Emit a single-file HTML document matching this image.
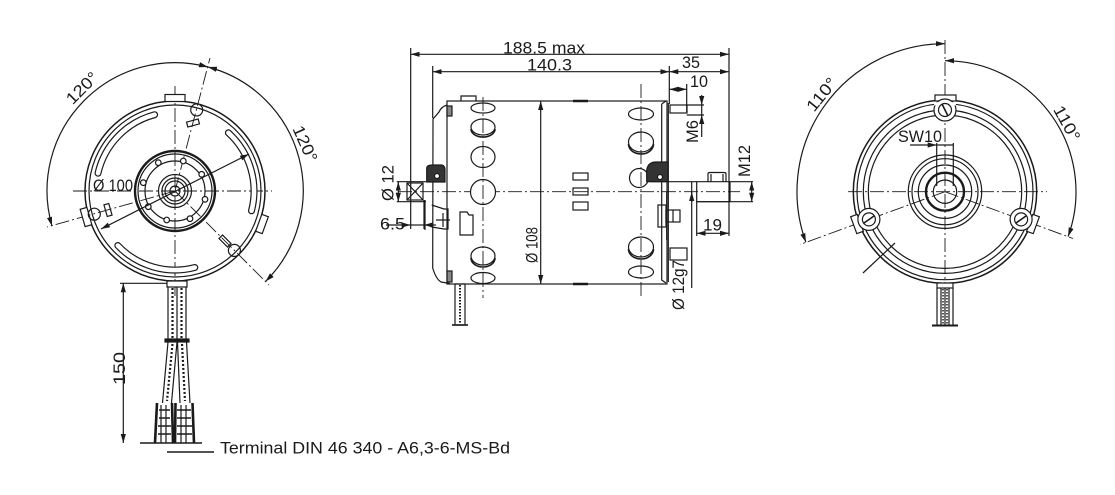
<!DOCTYPE html>
<html><head><meta charset="utf-8"><style>
html,body{margin:0;padding:0;background:#fff;}
svg{display:block;}
text{font-family:"Liberation Sans",sans-serif;fill:#1a1a1a;font-size:16.5px;}
</style></head><body>
<svg width="1115" height="495" viewBox="0 0 1115 495" xmlns="http://www.w3.org/2000/svg">
<defs>
<marker id="ar" viewBox="0 0 9 6" refX="9" refY="3" markerWidth="9" markerHeight="6" markerUnits="userSpaceOnUse" orient="auto-start-reverse"><path d="M0,0.4 L9,3 L0,5.6 z" fill="#1a1a1a"/></marker>
</defs>
<g fill="none" stroke="#1a1a1a" stroke-width="1.2">

<!-- ============ LEFT VIEW ============ -->
<g stroke-width="0.9" stroke-dasharray="14 3 2 3">
<line x1="73" y1="191" x2="272" y2="191"/>
<line x1="175" y1="86" x2="175" y2="296"/>
<line x1="175" y1="191" x2="47" y2="227"/>
<line x1="175" y1="191" x2="210" y2="58"/>
<line x1="175" y1="191" x2="269" y2="285"/>
</g>
<path d="M52,226 A128,128 0 0 1 208,67" marker-start="url(#ar)" marker-end="url(#ar)"/>
<path d="M208,67 A128,128 0 0 1 265.5,281.5" marker-start="url(#ar)" marker-end="url(#ar)"/>
<circle cx="175" cy="191" r="90" stroke-width="1.5"/>
<circle cx="175" cy="191" r="86"/>
<!-- slots -->
<g stroke-linecap="round">
<path d="M154.6,114.7 A79,79 0 0 0 98,173.2" stroke-width="7"/>
<path d="M228.4,132.8 A79,79 0 0 1 251.5,210.8" stroke-width="7"/>
<path d="M194.8,267.5 A79,79 0 0 1 117.8,245.5" stroke-width="7"/>
<path d="M154.6,114.7 A79,79 0 0 0 98,173.2" stroke-width="4.6" stroke="#fff"/>
<path d="M228.4,132.8 A79,79 0 0 1 251.5,210.8" stroke-width="4.6" stroke="#fff"/>
<path d="M194.8,267.5 A79,79 0 0 1 117.8,245.5" stroke-width="4.6" stroke="#fff"/>
</g>
<!-- tabs -->
<rect x="-10" y="-3.5" width="20" height="7" fill="#fff" transform="translate(175,98) rotate(0)"/>
<rect x="-9" y="-3.5" width="18" height="7" fill="#fff" transform="translate(86,217) rotate(-106)"/>
<rect x="-9" y="-3.5" width="18" height="7" fill="#fff" transform="translate(262,224) rotate(110)"/>
<!-- mount holes -->
<circle cx="196.7" cy="109.9" r="6"/>
<circle cx="94.3" cy="214.2" r="6"/>
<circle cx="234.4" cy="250.4" r="6"/>
<rect x="-6" y="-2.5" width="12" height="5" transform="translate(193,123) rotate(-15)"/>
<rect x="-6" y="-2.5" width="12" height="5" transform="translate(108,210) rotate(-106)"/>
<rect x="-6" y="-2.5" width="12" height="5" transform="translate(225,241) rotate(45)"/>
<!-- hub -->
<circle cx="175" cy="191" r="40" stroke-width="2.4"/>
<circle cx="175" cy="191" r="37"/>
<circle cx="175" cy="191" r="30"/>
<circle cx="175" cy="191" r="16.5"/>
<circle cx="175" cy="191" r="13"/>
<circle cx="175" cy="191" r="10"/>
<circle cx="175" cy="191" r="5"/>
<g fill="#fff">
<circle cx="183.3" cy="161" r="2.8"/><circle cx="201.7" cy="174.3" r="2.8"/>
<circle cx="205" cy="199.3" r="2.8"/><circle cx="190" cy="218.7" r="2.8"/>
<circle cx="166.7" cy="220" r="2.8"/><circle cx="148.3" cy="206.7" r="2.8"/>
<circle cx="143.3" cy="182.7" r="2.8"/><circle cx="158.3" cy="162.7" r="2.8"/>
</g>
<!-- Ø100 -->
<line x1="101" y1="229" x2="249" y2="154" marker-start="url(#ar)" marker-end="url(#ar)"/>
<!-- wires -->
<rect x="167" y="281" width="20" height="6" fill="#fff"/>
<path d="M168,287 V340 M177,287 V340 M186,287 V340"/>
<path d="M172.5,288 V339 M181.5,288 V339" stroke-dasharray="2 2" stroke-width="2.2"/>
<rect x="165" y="339" width="24" height="3" fill="#1a1a1a"/>
<path d="M168,342 L162.5,403 M177,342 L171.5,403 M177.5,342 L180,403 M186.5,342 L190,403"/>
<path d="M172.5,344 L167,401 M182,344 L185,401" stroke-dasharray="2 2" stroke-width="2.2"/>
<path d="M157,403 L155,443 M172,403 L173,443 M175.5,403 L175,443 M192.5,403 L194,443" stroke-width="2.6"/>
<path d="M159,410 H170 M159,418 H170 M158,426 H171 M158,434 H171 M177,410 H191 M177,418 H191 M177,426 H192 M177,434 H192" stroke-width="1.4"/>
<path d="M161,405 V443 M166,405 V443 M181,405 V443 M186,405 V443" stroke-width="1.2"/>
<line x1="140" y1="443" x2="202" y2="443" stroke-width="1.4"/>
<line x1="167" y1="452" x2="214" y2="452" stroke-width="1.4"/>
<!-- 150 dim -->
<line x1="120" y1="283.3" x2="167" y2="283.3"/>
<line x1="123.3" y1="283.3" x2="123.3" y2="443" marker-start="url(#ar)" marker-end="url(#ar)"/>

<!-- ============ MIDDLE VIEW ============ -->
<line x1="410.7" y1="48" x2="410.7" y2="229"/>
<line x1="729" y1="48" x2="729" y2="236"/>
<line x1="410.7" y1="54.3" x2="729" y2="54.3" marker-start="url(#ar)" marker-end="url(#ar)"/>
<line x1="432.7" y1="66" x2="432.7" y2="118"/>
<line x1="669.3" y1="66" x2="669.3" y2="104"/>
<line x1="432.7" y1="71.7" x2="669.3" y2="71.7" marker-start="url(#ar)" marker-end="url(#ar)"/>
<line x1="669.3" y1="71.7" x2="729" y2="71.7" marker-start="url(#ar)" marker-end="url(#ar)"/>
<line x1="686.7" y1="84" x2="686.7" y2="112"/>
<line x1="669.3" y1="89.3" x2="686.7" y2="89.3" marker-start="url(#ar)" marker-end="url(#ar)"/>
<line x1="686.7" y1="105" x2="704" y2="105"/>
<line x1="686.7" y1="115" x2="704" y2="115"/>
<line x1="701.7" y1="95" x2="701.7" y2="105" marker-end="url(#ar)"/>
<line x1="701.7" y1="137" x2="701.7" y2="115" marker-end="url(#ar)"/>
<line x1="701.7" y1="105" x2="701.7" y2="115"/>
<g stroke-width="0.9" stroke-dasharray="14 3 2 3">
<line x1="398" y1="191.7" x2="740" y2="191.7"/>
</g>
<!-- body -->
<rect x="447" y="101" width="220" height="183"/>
<line x1="540.7" y1="101" x2="540.7" y2="284" marker-start="url(#ar)" marker-end="url(#ar)"/>
<path d="M573,101 H588 M573,284 H588" stroke-width="2.6"/>
<rect x="573" y="173" width="15" height="7"/>
<rect x="573" y="188" width="15" height="7"/>
<rect x="573" y="202" width="15" height="8"/>
<!-- left bell -->
<path d="M447,105 Q441,107 439,112 L433,119 L432.7,268 Q436,279 441,282 L450,283.5"/>
<rect x="447" y="106" width="5" height="10" fill="#888"/>
<rect x="447" y="271" width="5" height="11" fill="#888"/>
<path d="M461,101 V96 H476 V101"/>
<path d="M426.7,182 V168 Q427,165 432,165 H442 Q445,166 445,170 V182 Z" fill="#333"/>
<circle cx="437" cy="176" r="2.5" fill="#fff"/>
<rect x="407" y="183" width="16" height="17"/>
<path d="M407,183 L423,200 M423,183 L407,200"/>
<path d="M425,200 V230 M431.7,205 L444,209 L448,209 L448,229 L444,229 L431.7,227"/>
<path d="M436,220 H450 M443,213 V227"/>
<path d="M460,212 H467 L469,215 H473 V235 H460 Z"/>
<line x1="396.7" y1="181.7" x2="426" y2="181.7"/>
<line x1="396.7" y1="201.7" x2="426" y2="201.7"/>
<line x1="398.3" y1="181.7" x2="398.3" y2="201.7" marker-start="url(#ar)" marker-end="url(#ar)"/>
<line x1="424" y1="200" x2="424" y2="229"/>
<line x1="386" y1="225" x2="410.7" y2="225" marker-end="url(#ar)"/>
<line x1="436" y1="225" x2="424" y2="225" marker-end="url(#ar)"/>
<line x1="410.7" y1="225" x2="424" y2="225"/>
<!-- holes -->
<g fill="#fff">
<ellipse cx="483" cy="108" rx="12" ry="5"/>
<ellipse cx="483" cy="127" rx="12" ry="8"/>
<ellipse cx="483" cy="157" rx="12" ry="10.5"/>
<circle cx="483" cy="192" r="12.5"/>
<ellipse cx="483" cy="256" rx="12" ry="9"/>
<ellipse cx="483" cy="278" rx="12" ry="5.5"/>
<ellipse cx="641" cy="114" rx="12.5" ry="6"/>
<ellipse cx="641" cy="142" rx="12.5" ry="10"/>
<ellipse cx="641" cy="247" rx="12.5" ry="10"/>
<ellipse cx="641" cy="272" rx="12.5" ry="6"/>
<circle cx="639" cy="178" r="9.5"/>
</g>
<path d="M471,129 A12,8 0 0 0 495,129 M471,258 A12,9 0 0 0 495,258 M628.5,144 A12.5,10 0 0 0 653.5,144 M628.5,249 A12.5,10 0 0 0 653.5,249" stroke-width="1.6"/>
<g stroke-width="0.9" stroke-dasharray="14 3 2 3">
<line x1="483" y1="97" x2="483" y2="298"/>
<line x1="641" y1="84" x2="641" y2="298"/>
</g>
<!-- right end -->
<path d="M661.7,104 L666,101 M661.7,104 V280 L666,283"/>
<line x1="668.3" y1="103" x2="668.3" y2="282"/>
<rect x="670" y="105" width="17" height="8"/>
<path d="M646.7,181.7 V170 Q648,162 656,162 H668 V181.7 Z" fill="#333"/>
<circle cx="660" cy="177" r="2.5" fill="#fff"/>
<line x1="650" y1="181.7" x2="753" y2="181.7"/>
<line x1="696.7" y1="201.7" x2="753" y2="201.7"/>
<line x1="691.7" y1="181.7" x2="691.7" y2="288"/>
<path d="M696.7,181.7 V201.7 H730 V181.7"/>
<path d="M708,181.7 V174 Q708,172.5 710,172.5 H724 Q726,172.5 726,174 V181.7 M711,174 V181.7 M723,174 V181.7"/>
<line x1="751.7" y1="181.7" x2="751.7" y2="201.7" marker-start="url(#ar)" marker-end="url(#ar)"/>
<line x1="696.7" y1="201.7" x2="696.7" y2="236"/>
<line x1="696.7" y1="233.3" x2="729" y2="233.3" marker-start="url(#ar)" marker-end="url(#ar)"/>
<line x1="666.7" y1="191.7" x2="666.7" y2="240"/>
<rect x="658" y="205" width="8" height="22"/>
<rect x="666" y="210" width="14" height="12"/>
<line x1="673" y1="210" x2="673" y2="222"/>
<rect x="670" y="248" width="17" height="12"/>
<line x1="691.7" y1="192" x2="691.7" y2="202" marker-start="url(#ar)"/>
<!-- bottom wire middle -->
<rect x="455" y="284" width="10" height="41"/>
<line x1="460" y1="285" x2="460" y2="324" stroke-dasharray="1.5 1.5" stroke-width="2"/>
<line x1="452" y1="325" x2="468" y2="325" stroke-width="1.6"/>

<!-- ============ RIGHT VIEW ============ -->
<g stroke-width="0.9" stroke-dasharray="14 3 2 3">
<line x1="848" y1="191.7" x2="1047" y2="191.7"/>
<line x1="945" y1="40" x2="945" y2="292"/>
<line x1="945" y1="191.7" x2="800" y2="244.5"/>
<line x1="945" y1="191.7" x2="1073" y2="238.5"/>
</g>
<path d="M805.9,242.3 A148,148 0 0 1 945,43.7" marker-start="url(#ar)" marker-end="url(#ar)"/>
<path d="M945,60.7 A131,131 0 0 1 1068.1,236.5" marker-start="url(#ar)" marker-end="url(#ar)"/>
<circle cx="945" cy="191.7" r="91.7" stroke-width="1.5"/>
<circle cx="945" cy="191.7" r="88"/>
<circle cx="945" cy="191.7" r="81.7"/>
<circle cx="945" cy="191.7" r="76.7"/>
<rect x="935" y="95" width="21" height="6" fill="#fff"/>
<rect x="-9" y="-3.5" width="18" height="7" fill="#fff" transform="translate(857,224) rotate(-110)"/>
<rect x="-9" y="-3.5" width="18" height="7" fill="#fff" transform="translate(1033,224) rotate(110)"/>
<g fill="#fff">
<circle cx="945" cy="110" r="11"/>
<circle cx="868.9" cy="219.4" r="11"/>
<circle cx="1021.1" cy="219.4" r="11"/>
</g>
<g stroke="#fff" stroke-width="3">
<path d="M934,104 A79,79 0 0 1 956,104"/>
</g>
<circle cx="945" cy="110" r="6.5"/>
<circle cx="868.9" cy="219.4" r="6.5"/>
<circle cx="1021.1" cy="219.4" r="6.5"/>
<path d="M942,104 L948,116 M864,223 L874,216 M1016,223 L1026,216" stroke-width="1.6"/>
<!-- hub -->
<circle cx="945" cy="191.7" r="36.7"/>
<circle cx="945" cy="191.7" r="33"/>
<circle cx="945" cy="191.7" r="26.7"/>
<circle cx="945" cy="191.7" r="19" stroke-width="2.4"/>
<circle cx="945" cy="191.7" r="11.7"/>
<!-- SW10 -->
<line x1="936.7" y1="143" x2="936.7" y2="186"/>
<line x1="953.3" y1="143" x2="953.3" y2="186"/>
<line x1="910" y1="145" x2="936.7" y2="145" marker-end="url(#ar)"/>
<line x1="936.7" y1="145" x2="953.3" y2="145"/>
<!-- leader -->
<line x1="863" y1="273" x2="895" y2="243"/>
<!-- wire -->
<rect x="937" y="283" width="16" height="5" fill="#fff"/>
<path d="M937,288 V325 M953,288 V325 M941,288 V325 M945,288 V325 M949,288 V325"/>
<line x1="943" y1="289" x2="943" y2="324" stroke-dasharray="1.5 1.5" stroke-width="1.5"/>
<line x1="947" y1="289" x2="947" y2="324" stroke-dasharray="1.5 1.5" stroke-width="1.5"/>
<line x1="932" y1="325.5" x2="958" y2="325.5" stroke-width="2"/>
</g>

<!-- ============ TEXT ============ -->
<text x="86" y="92" text-anchor="middle" textLength="38" lengthAdjust="spacingAndGlyphs" transform="rotate(-45 86 92)">120°</text>
<text x="300" y="146" text-anchor="middle" textLength="38" lengthAdjust="spacingAndGlyphs" transform="rotate(66 300 146)">120°</text>
<text x="93" y="191" textLength="40" lengthAdjust="spacingAndGlyphs">Ø 100</text>
<text transform="translate(125,368.5) rotate(-90)" text-anchor="middle" textLength="33" lengthAdjust="spacingAndGlyphs">150</text>
<text x="220" y="453.5" textLength="290" lengthAdjust="spacingAndGlyphs">Terminal DIN 46 340 - A6,3-6-MS-Bd</text>

<text x="544" y="53.5" text-anchor="middle" textLength="82" lengthAdjust="spacingAndGlyphs">188.5 max</text>
<text x="549.5" y="70.5" text-anchor="middle" textLength="45" lengthAdjust="spacingAndGlyphs">140.3</text>
<text x="691" y="68" text-anchor="middle" textLength="18" lengthAdjust="spacingAndGlyphs">35</text>
<text x="699" y="87" text-anchor="middle" textLength="18" lengthAdjust="spacingAndGlyphs">10</text>
<text x="392.5" y="229.5" text-anchor="middle" textLength="25" lengthAdjust="spacingAndGlyphs">6.5</text>
<text x="712.5" y="230.5" text-anchor="middle" textLength="19" lengthAdjust="spacingAndGlyphs">19</text>
<text transform="translate(393.5,183) rotate(-90)" text-anchor="middle" textLength="36" lengthAdjust="spacingAndGlyphs">Ø 12</text>
<text transform="translate(537.5,245) rotate(-90)" text-anchor="middle" textLength="36" lengthAdjust="spacingAndGlyphs">Ø 108</text>
<text transform="translate(698,131.5) rotate(-90)" text-anchor="middle" textLength="23" lengthAdjust="spacingAndGlyphs">M6</text>
<text transform="translate(750,161) rotate(-90)" text-anchor="middle" textLength="32" lengthAdjust="spacingAndGlyphs">M12</text>
<text transform="translate(684,285) rotate(-90)" text-anchor="middle" textLength="50" lengthAdjust="spacingAndGlyphs">Ø 12g7</text>

<text x="898" y="142" textLength="44" lengthAdjust="spacingAndGlyphs">SW10</text>
<text x="826" y="98" text-anchor="middle" textLength="38" lengthAdjust="spacingAndGlyphs" transform="rotate(-51 826 98)">110°</text>
<text x="1062" y="126" text-anchor="middle" textLength="38" lengthAdjust="spacingAndGlyphs" transform="rotate(61 1062 126)">110°</text>
</svg>
</body></html>
